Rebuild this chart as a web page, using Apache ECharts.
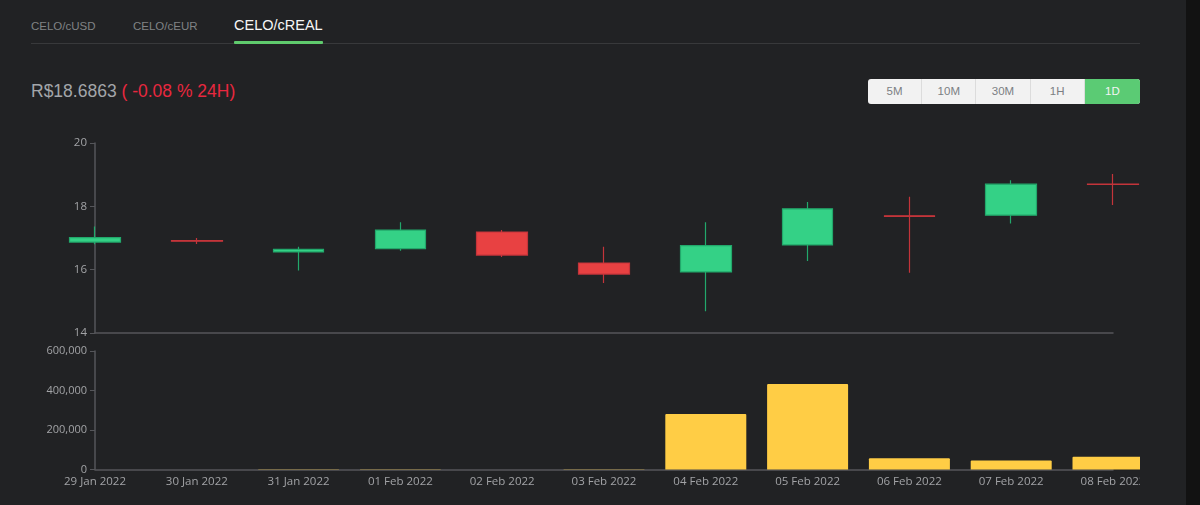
<!DOCTYPE html>
<html>
<head>
<meta charset="UTF-8">
<title>CELO/cREAL</title>
<style>
	html, body { margin: 0; padding: 0; background: #212224; overflow: hidden; }
	body { width: 1200px; height: 505px; position: relative; font-family: "Liberation Sans", Arial, sans-serif; }
	.strip { position: absolute; left: 1186px; top: 0; width: 14px; height: 505px; background: #121212; }
	.tabline { position: absolute; left: 31px; top: 43px; width: 1109px; height: 1px; background: #38393b; }
	.tab { position: absolute; top: 18px; font-size: 11.5px; line-height: 16px; color: #808285; }
	.tab.on { top: 16px; font-size: 14.5px; line-height: 18px; color: #f6f6f6; }
	.tabbar { position: absolute; left: 234px; top: 41px; width: 89px; height: 3px; background: #5fcb6d; border-radius: 1px; }
	.price { position: absolute; left: 31px; top: 81px; font-size: 17.5px; line-height: 21px; color: #a3a6aa; white-space: pre; }
	.price span { color: #e8283f; }
	.btns { position: absolute; left: 868px; top: 79px; width: 272px; height: 25px; display: flex; border-radius: 3px; overflow: hidden; background: #f2f2f2; }
	.btns div { width: 54.2px; text-align: center; font-size: 11.5px; line-height: 25px; color: #7c7f83; box-sizing: border-box; border-right: 1px solid #dcdcdc; }
	.btns div.on { flex: 1; background: #5bcb74; color: #f4f4f4; border-right: 0; }
	#chart { position: absolute; left: 0; top: 0; width: 1140px; height: 505px; }
</style>
</head>
<body>
	<div class="strip"></div>
	<div class="tabline"></div>
	<div class="tab" style="left:31px">CELO/cUSD</div>
	<div class="tab" style="left:133px">CELO/cEUR</div>
	<div class="tab on" style="left:234px">CELO/cREAL</div>
	<div class="tabbar"></div>
	<div class="price">R$18.6863 <span>( -0.08 % 24H)</span></div>
	<div class="btns">
		<div>5M</div><div>10M</div><div>30M</div><div>1H</div><div class="on">1D</div>
	</div>
	<div id="chart"></div>

	<script src="https://cdn.jsdelivr.net/npm/echarts@6/dist/echarts.min.js"></script>
	<script type="text/javascript">
		var dates = ['29 Jan 2022', '30 Jan 2022', '31 Jan 2022', '01 Feb 2022', '02 Feb 2022', '03 Feb 2022',
			'04 Feb 2022', '05 Feb 2022', '06 Feb 2022', '07 Feb 2022', '08 Feb 2022'];
		var opens = [16.87, 16.92, 16.56, 16.66, 17.19, 16.21, 15.93, 16.78, 17.70, 17.72, 18.70];
		var closes = [17.01, 16.90, 16.64, 17.25, 16.46, 15.86, 16.76, 17.92, 17.68, 18.70, 18.69];
		var lows = [16.80, 16.81, 15.97, 16.60, 16.40, 15.58, 14.69, 16.27, 15.90, 17.46, 18.04];
		var highs = [17.36, 17.00, 16.72, 17.50, 17.25, 16.72, 17.50, 18.14, 18.30, 18.82, 19.02];
		var volumes = [150, 200, 1500, 1500, 300, 1000, 281000, 433000, 57000, 45000, 65000];

		var candles = [];
		for (var i = 0; i < dates.length; i++) {
			candles.push([opens[i], closes[i], lows[i], highs[i]]);
		}

		var axisLine = { lineStyle: { color: '#55565a', width: 1.5 } };
		var labelColor = '#a2a3a6';
		var labelFont = '"Open Sans", sans-serif';

		var myChart = echarts.init(document.getElementById('chart'));

		var option = {
			animation: false,
			backgroundColor: 'transparent',
			// 最后一个标签要被画布裁掉，不让网格为它收缩
			grid: [
				{ left: 95, width: 1018, top: 143, height: 190, outerBoundsMode: 'none' },
				{ left: 95, width: 1018, top: 351, height: 118.5, outerBoundsMode: 'none' }
			],
			xAxis: [
				{
					type: 'category', gridIndex: 0, data: dates, boundaryGap: false,
					axisLine: axisLine, axisTick: { show: false }, axisLabel: { show: false }, splitLine: { show: false }
				},
				{
					type: 'category', gridIndex: 1, data: dates, boundaryGap: false,
					axisLine: axisLine, axisTick: { show: false }, splitLine: { show: false },
					axisLabel: { color: labelColor, fontFamily: labelFont, fontSize: 11.5, interval: 0, margin: 6, hideOverlap: false }
				}
			],
			yAxis: [
				{
					type: 'value', gridIndex: 0, min: 14, max: 20, interval: 2, scale: true,
					axisLine: Object.assign({ show: true }, axisLine),
					axisTick: { show: true, length: 5, lineStyle: { color: '#55565a' } },
					axisLabel: { color: labelColor, fontFamily: labelFont, fontSize: 11.5, margin: 8 },
					splitLine: { show: false }
				},
				{
					type: 'value', gridIndex: 1, min: 0, max: 600000, interval: 200000,
					axisLine: Object.assign({ show: true }, axisLine),
					axisTick: { show: true, length: 5, lineStyle: { color: '#55565a' } },
					axisLabel: { color: labelColor, fontFamily: labelFont, fontSize: 11, margin: 8 },
					splitLine: { show: false }
				}
			],
			series: [
				{
					type: 'candlestick', xAxisIndex: 0, yAxisIndex: 0, data: candles,
					barWidth: 51, clip: false,
					itemStyle: {
						color: '#34d186', color0: '#e84142',
						borderColor: '#22a86b', borderColor0: '#c4343a', borderWidth: 1.2
					}
				},
				{
					type: 'bar', xAxisIndex: 1, yAxisIndex: 1, data: volumes,
					barWidth: 81, clip: false,
					itemStyle: { color: '#ffcd45', borderRadius: [1, 1, 0, 0] }
				}
			]
		};

		myChart.setOption(option);
	</script>
</body>
</html>
